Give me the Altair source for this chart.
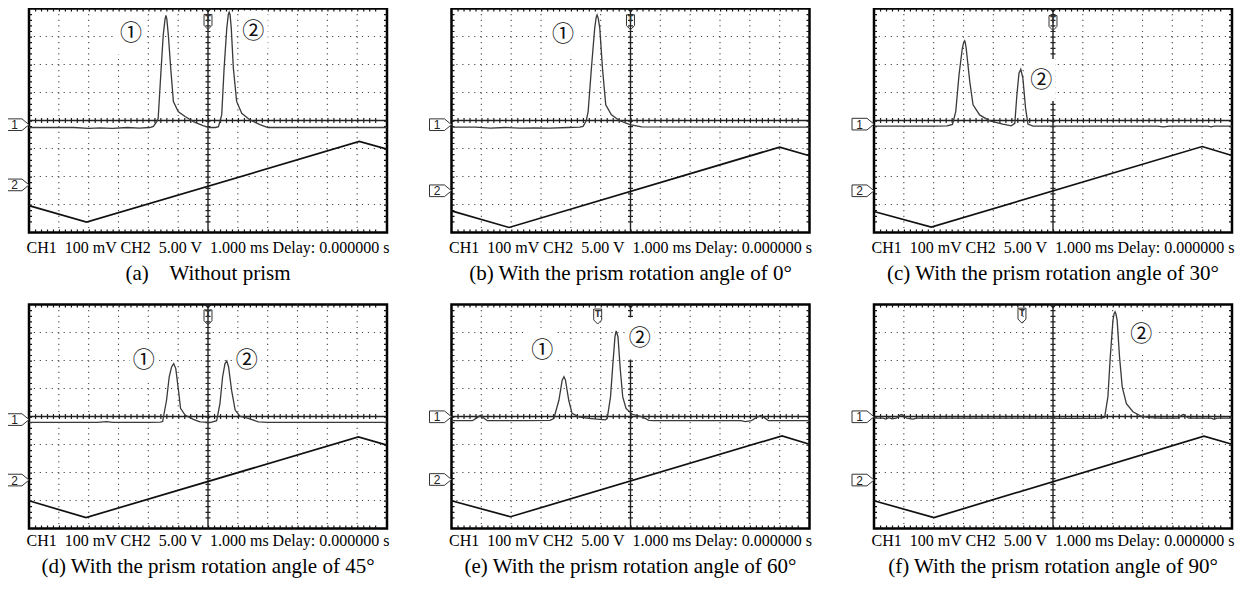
import altair as alt
import pandas as pd

# ---------------- layout constants ----------------
W, H = 358, 224          # plot area of each oscilloscope screen
NX, NY = 12, 8           # divisions
PPD_X = W / NX
PPD_Y = H / NY

CH_LINE = "CH1\u00a0 100 mV CH2\u00a0 5.00 V\u00a0 1.000 ms Delay: 0.000000 s"

CAPTIONS = [
    "(a)\u00a0\u00a0\u00a0 Without prism",
    "(b) With the prism rotation angle of 0°",
    "(c) With the prism rotation angle of 30°",
    "(d) With the prism rotation angle of 45°",
    "(e) With the prism rotation angle of 60°",
    "(f) With the prism rotation angle of 90°",
]

# ---------------- data (in screen divisions) ----------------
# CH1 photodetector traces (x, y)
A_CH1 = [(0, 3.75), (0.7, 3.75), (1.5, 3.75), (2.0, 3.72), (2.4, 3.74), (2.8, 3.72), (3.3, 3.75),
         (3.7, 3.73), (4.05, 3.75), (4.17, 3.79), (4.28, 3.96), (4.33, 4.08), (4.43, 5.87),
         (4.50, 7.06), (4.56, 7.62), (4.59, 7.75), (4.62, 7.62), (4.67, 7.06), (4.75, 5.87),
         (4.84, 4.68), (5.00, 4.32), (5.23, 4.14), (5.51, 3.96), (5.83, 3.82), (6.05, 3.75),
         (6.25, 3.75), (6.35, 3.78), (6.46, 4.20), (6.54, 5.87), (6.63, 7.30), (6.68, 7.78),
         (6.71, 7.87), (6.74, 7.78), (6.78, 7.30), (6.85, 5.87), (6.96, 4.68), (7.13, 4.26),
         (7.41, 4.02), (7.74, 3.85), (8.01, 3.75), (12, 3.75)]
B_CH1 = [(0, 3.76), (0.8, 3.76), (1.3, 3.73), (1.8, 3.75), (2.3, 3.73), (2.8, 3.74), (3.3, 3.73),
         (3.9, 3.75), (4.30, 3.76), (4.41, 3.79), (4.52, 4.00), (4.58, 4.32), (4.69, 5.87),
         (4.80, 7.30), (4.85, 7.68), (4.88, 7.77), (4.92, 7.65), (4.97, 7.30), (5.06, 5.87),
         (5.17, 4.56), (5.36, 4.20), (5.64, 3.99), (5.98, 3.85), (6.37, 3.77), (12, 3.76)]
C_CH1 = [(0, 3.80), (1.0, 3.80), (2.0, 3.80), (2.45, 3.81), (2.63, 3.86), (2.74, 4.32), (2.85, 5.63),
         (2.96, 6.58), (3.01, 6.80), (3.04, 6.85), (3.06, 6.78), (3.09, 6.58), (3.21, 5.39),
         (3.32, 4.56), (3.54, 4.20), (3.88, 3.99), (4.32, 3.87), (4.60, 3.81), (4.72, 3.90),
         (4.79, 4.92), (4.86, 5.69), (4.92, 5.83), (4.99, 5.51), (5.08, 4.44), (5.16, 3.87),
         (5.33, 3.80), (9.5, 3.80), (9.7, 3.77), (9.9, 3.80), (11.2, 3.80), (11.3, 3.77),
         (11.4, 3.80), (12, 3.80)]
D_CH1 = [(0, 3.79), (1.0, 3.79), (2.3, 3.79), (2.6, 3.82), (2.8, 3.79), (4.0, 3.79), (4.40, 3.80),
         (4.48, 3.82), (4.61, 4.58), (4.70, 5.42), (4.78, 5.77), (4.85, 5.89), (4.92, 5.71),
         (5.01, 4.94), (5.08, 4.29), (5.23, 4.05), (5.51, 3.90), (5.73, 3.81), (6.10, 3.79),
         (6.29, 3.85), (6.40, 4.46), (6.49, 5.42), (6.57, 5.89), (6.63, 5.98), (6.69, 5.77),
         (6.79, 4.94), (6.91, 4.23), (7.07, 4.01), (7.35, 3.93), (7.69, 3.81), (8.0, 3.79),
         (12, 3.79)]
E_CH1 = [(0, 3.85), (0.7, 3.85), (0.85, 3.95), (0.97, 4.04), (1.08, 3.95), (1.2, 3.85), (2.5, 3.85),
         (3.3, 3.86), (3.43, 3.93), (3.60, 4.58), (3.71, 5.30), (3.77, 5.42), (3.82, 5.30),
         (3.93, 4.58), (4.04, 4.11), (4.27, 3.99), (4.60, 3.93), (5.16, 3.88), (5.22, 3.93),
         (5.33, 4.70), (5.41, 5.89), (5.48, 6.85), (5.52, 7.06), (5.58, 6.85), (5.66, 5.65),
         (5.74, 4.70), (5.85, 4.29), (6.06, 4.08), (6.39, 3.99), (6.61, 3.86), (6.8, 3.85),
         (9.7, 3.85), (9.85, 3.82), (10.05, 3.85), (10.2, 3.95), (10.36, 4.04), (10.5, 3.95),
         (10.62, 3.85), (12, 3.85)]
F_CH1 = [(0, 3.94), (0.3, 3.94), (0.4, 3.91), (0.5, 3.96), (0.6, 3.92), (0.75, 3.94), (0.85, 4.03),
         (0.92, 4.07), (1.0, 4.03), (1.1, 3.94), (1.3, 3.91), (1.45, 3.94), (3.0, 3.94),
         (5.5, 3.94), (6.5, 3.93), (7.6, 3.94), (7.73, 3.97), (7.84, 4.70), (7.92, 6.13),
         (8.01, 7.44), (8.05, 7.68), (8.08, 7.74), (8.11, 7.66), (8.15, 7.44), (8.23, 6.13),
         (8.32, 5.06), (8.46, 4.46), (8.68, 4.17), (8.96, 4.01), (9.24, 3.96), (9.6, 3.94),
         (10.2, 3.94), (10.3, 4.03), (10.37, 4.07), (10.45, 4.01), (10.55, 3.94), (11.3, 3.94),
         (11.4, 3.90), (11.5, 3.94), (12, 3.94)]

# CH2 triangular scan voltage (x, y)
A_CH2 = [(0, 0.96), (1.93, 0.37), (11.07, 3.25), (12, 2.98)]
B_CH2 = [(0, 0.77), (1.93, 0.18), (11.00, 3.05), (12, 2.74)]
C_CH2 = [(0, 0.75), (1.92, 0.19), (11.00, 3.07), (12, 2.75)]
D_CH2 = [(0, 0.99), (1.91, 0.39), (11.04, 3.27), (12, 2.98)]
E_CH2 = [(0, 0.99), (1.98, 0.42), (11.08, 3.31), (12, 3.01)]
F_CH2 = [(0, 0.99), (2.01, 0.39), (11.06, 3.30), (12, 3.01)]

# peak labels (x, y, text)
A_LAB = [(3.42, 7.12, "①"), (7.52, 7.18, "②")]
B_LAB = [(3.74, 7.10, "①")]
C_LAB = [(5.61, 5.45, "②")]
D_LAB = [(3.85, 6.01, "①"), (7.30, 6.01, "②")]
E_LAB = [(3.04, 6.37, "①"), (6.31, 6.79, "②")]
F_LAB = [(8.96, 6.96, "②")]

# trigger marker position and channel marker levels (CH1, CH2)
TRIG_X = [6.0, 6.0, 6.0, 6.0, 4.90, 4.96]
TRIG_Y = [7.52, 7.51, 7.48, 7.54, 7.57, 7.60]
FLAG1_Y = [3.85, 3.85, 3.87, 3.89, 3.99, 3.99]
FLAG2_Y = [1.70, 1.49, 1.49, 1.73, 1.75, 1.73]

GRID_X = [1, 2, 3, 4, 5, 7, 8, 9, 10, 11]
GRID_Y = [1, 2, 3, 5, 6, 7]
CENTER_X = 6
CENTER_Y = 4

FLAG_PATH = "M-1,-0.53 L0.36,-0.53 L1,0 L0.36,0.53 L-1,0.53 Z"
TRIG_PATH = "M-0.53,-1 L0.53,-1 L0.53,0.45 L0,1 L-0.53,0.45 Z"
TOP_TRI_PATH = "M-1,0 L1,0 L0,1 Z"

XS = alt.Scale(domain=[0, NX], nice=False, zero=False)
YS = alt.Scale(domain=[0, NY], nice=False, zero=False)


def X(f):
    return alt.X(f, type="quantitative", scale=XS, axis=None)


def Y(f):
    return alt.Y(f, type="quantitative", scale=YS, axis=None)


def panel(i, ch1, ch2, labs, title_offset, sub_pad):
    dash_v = [1.2, PPD_Y / 5 - 1.2]
    dash_h = [1.2, PPD_X / 5 - 1.2]
    tick_y = 0.2            # one minor-tick step (division)
    grid_v = alt.Chart(pd.DataFrame({"x": GRID_X})).mark_rule(
        color="#4a4a4a", strokeWidth=1.1, strokeDash=dash_v).encode(x=X("x"))
    grid_h = alt.Chart(pd.DataFrame({"y": GRID_Y})).mark_rule(
        color="#4a4a4a", strokeWidth=1.1, strokeDash=dash_h).encode(y=Y("y"))
    cv = pd.DataFrame({"x": [CENTER_X], "y1": [tick_y], "y2": [NY - tick_y]})
    ch = pd.DataFrame({"y": [CENTER_Y], "x1": [tick_y], "x2": [NX - tick_y]})
    center_v = alt.Chart(cv).mark_rule(color="#222", strokeWidth=1.4).encode(x=X("x"))
    center_vt = alt.Chart(cv).mark_rule(color="#222", strokeWidth=5, strokeDash=dash_v).encode(
        x=X("x"), y=Y("y2"), y2="y1")
    center_h = alt.Chart(ch).mark_rule(color="#222", strokeWidth=1.4).encode(y=Y("y"))
    center_ht = alt.Chart(ch).mark_rule(color="#222", strokeWidth=5, strokeDash=dash_h).encode(
        y=Y("y"), x=X("x1"), x2="x2")
    # inward tick marks along the screen border (kept inside the frame)
    ex = 1.5 / PPD_X
    ey = 1.5 / PPD_Y
    edge_v = alt.Chart(pd.DataFrame({"x": [ex, NX - ex], "y1": [tick_y] * 2, "y2": [NY - tick_y] * 2})
                       ).mark_rule(color="#111", strokeWidth=3, strokeDash=dash_v).encode(
        x=X("x"), y=Y("y2"), y2="y1")
    edge_h = alt.Chart(pd.DataFrame({"y": [ey, NY - ey], "x1": [tick_y] * 2, "x2": [NX - tick_y] * 2})
                       ).mark_rule(color="#111", strokeWidth=3, strokeDash=dash_h).encode(
        y=Y("y"), x=X("x1"), x2="x2")

    lab_df = pd.DataFrame(labs, columns=["x", "y", "t"])
    box_df = pd.DataFrame({
        "x1": lab_df["x"] - 0.48, "x2": lab_df["x"] + 0.48,
        "y1": lab_df["y"] - 0.75, "y2": lab_df["y"] + 0.75,
    })
    boxes = alt.Chart(box_df).mark_rect(color="white").encode(
        x=X("x1"), x2="x2", y=Y("y1"), y2="y2")

    top_tri = alt.Chart(pd.DataFrame({"x": [CENTER_X], "y": [NY]})).mark_point(
        shape=TOP_TRI_PATH, size=64, filled=True, color="#222", opacity=1).encode(x=X("x"), y=Y("y"))
    trig_df = pd.DataFrame({"x": [TRIG_X[i]], "y": [TRIG_Y[i]], "t": ["T"]})
    trig = alt.Chart(trig_df).mark_point(
        shape=TRIG_PATH, size=225, filled=False, stroke="#333", strokeWidth=1, opacity=1
    ).encode(x=X("x"), y=Y("y"))
    trig_t = alt.Chart(trig_df).mark_text(
        font="DejaVu Sans", fontSize=8, fontWeight="bold", color="#333", baseline="middle", dy=-2
    ).encode(x=X("x"), y=Y("y"), text="t:N")

    ch2_df = pd.DataFrame(ch2, columns=["x", "y"]).reset_index()
    ch1_df = pd.DataFrame(ch1, columns=["x", "y"]).reset_index()
    line2 = alt.Chart(ch2_df).mark_line(color="#111", strokeWidth=1.7).encode(
        x=X("x"), y=Y("y"), order="index:Q")
    line1 = alt.Chart(ch1_df).mark_line(color="#3a3a3a", strokeWidth=1.3).encode(
        x=X("x"), y=Y("y"), order="index:Q")

    labels = alt.Chart(lab_df).mark_text(
        font="Noto Sans CJK SC", fontSize=22, color="#111", baseline="middle"
    ).encode(x=X("x"), y=Y("y"), text="t:N")

    flag_df = pd.DataFrame({
        "x": [-11 / PPD_X, -11 / PPD_X],
        "xt": [-14.5 / PPD_X, -14.5 / PPD_X],
        "y": [FLAG1_Y[i], FLAG2_Y[i]],
        "t": ["1", "2"],
    })
    flags = alt.Chart(flag_df).mark_point(
        shape=FLAG_PATH, size=484, filled=True, fill="white", stroke="#333", strokeWidth=1, opacity=1
    ).encode(x=X("x"), y=Y("y"))
    flag_t = alt.Chart(flag_df).mark_text(
        font="Liberation Sans", fontSize=12, color="#222", baseline="middle", dy=0.5
    ).encode(x=X("xt"), y=Y("y"), text="t:N")

    return alt.layer(
        grid_v, grid_h, center_v, center_vt, center_h, center_ht, edge_v, edge_h,
        boxes, top_tri, trig, trig_t, line2, line1, labels, flags, flag_t
    ).properties(
        width=W, height=H,
        title=alt.TitleParams(
            text=CH_LINE, subtitle=CAPTIONS[i], orient="bottom", anchor="middle",
            font="Liberation Serif", fontSize=16, fontWeight="normal", color="black",
            subtitleFont="Liberation Serif", subtitleFontSize=21, subtitleColor="black",
            subtitlePadding=sub_pad, offset=title_offset,
        ),
    )


panels = [
    panel(0, A_CH1, A_CH2, A_LAB, 7, 7),
    panel(1, B_CH1, B_CH2, B_LAB, 7, 7),
    panel(2, C_CH1, C_CH2, C_LAB, 7, 7),
    panel(3, D_CH1, D_CH2, D_LAB, 4, 7),
    panel(4, E_CH1, E_CH2, E_LAB, 4, 7),
    panel(5, F_CH1, F_CH2, F_LAB, 4, 7),
]

chart = alt.concat(
    *panels, columns=3, bounds="flush", spacing={"row": 72, "column": 64.5}
).properties(
    padding={"left": -5, "top": -1.5, "right": 0, "bottom": 0},
    background="white",
).configure_view(
    stroke="black", strokeWidth=2.5
)

chart.save("out.html", embed_options={"renderer": "svg", "actions": False})
